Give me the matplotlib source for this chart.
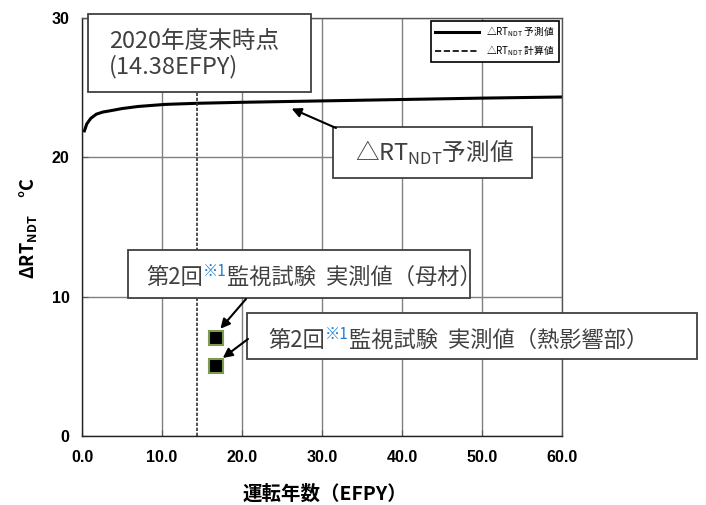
import matplotlib
matplotlib.use("Agg")
import matplotlib.pyplot as plt
from matplotlib.patches import Rectangle

plt.rcParams['font.family'] = ['Noto Sans CJK JP', 'DejaVu Sans']

# predicted curve (EFPY, deltaRT_NDT)
efpy = [0.3, 0.6, 1.1, 1.8, 2.6, 3.6, 5.0, 7.0, 10.4, 14.5, 20.0, 30.0, 40.0, 50.0, 60.0]
rt_pred = [21.9, 22.4, 22.8, 23.1, 23.25, 23.35, 23.5, 23.65, 23.8, 23.88, 23.95, 24.05, 24.15, 24.25, 24.33]

# measured values, 2nd surveillance test
meas_x = [16.7, 16.7]
meas_y = [7.0, 5.0]   # base metal, heat affected zone

now_efpy = 14.38
x_ticks = [0, 10, 20, 30, 40, 50, 60]
y_ticks = [0, 10, 20, 30]

W, H = 706, 505
fig = plt.figure(figsize=(W / 100, H / 100), dpi=100)
ax = fig.add_axes([82 / W, 1 - 436 / H, 480 / W, 418 / H])


def fx(px):
    return px / W


def fy(py):
    return 1 - py / H


ax.plot(efpy, rt_pred, color='black', lw=2.2, label='△RT$_{\\mathregular{NDT}}$ 予測値')
ax.plot([], [], color='black', lw=1.2, ls='--', label='△RT$_{\\mathregular{NDT}}$ 計算値')
ax.axvline(now_efpy, color='#333333', lw=1.2, ls=(0, (2, 1)))
ax.plot(meas_x, meas_y, ls='none', marker='s', ms=10, mfc='black', mec='#7d9a52', mew=1.5)

ax.set_xlim(0, 60)
ax.set_ylim(0, 30)
ax.set_xticks(x_ticks)
ax.set_yticks(y_ticks)
ax.set_xticklabels([f"{v:.1f}" for v in x_ticks])
ax.grid(True, color='#808080', lw=1)
ax.set_axisbelow(True)
ax.tick_params(direction='in', length=4, color='#555555')
ax.tick_params(axis='x', pad=10)
ax.tick_params(axis='y', pad=9)
for lab in ax.get_xticklabels() + ax.get_yticklabels():
    lab.set_fontfamily(['Liberation Sans', 'DejaVu Sans'])
    lab.set_fontweight('bold')
    lab.set_fontsize(11.5)
for s in ax.spines.values():
    s.set_color('#555555')
    s.set_linewidth(1)
ax.spines['left'].set_color('#222222')
ax.spines['bottom'].set_color('#222222')

leg = ax.legend(loc='upper right', fontsize=7, frameon=True, fancybox=False,
                framealpha=1, edgecolor='black', borderaxespad=0.3, handlelength=4.5,
                labelspacing=0.4, borderpad=0.4)
leg.get_frame().set_linewidth(1.2)

fig.text(fx(325), fy(494), '運転年数（EFPY）', ha='center', va='center',
         fontsize=14, fontweight='bold')
fig.text(fx(28), fy(228), 'ΔRT$_{\\mathregular{NDT}}$　°C', ha='center', va='center',
         rotation=90, fontsize=13, fontweight='bold')

txt_col = '#404040'
box_col = '#404040'
tf = fig.transFigure


def box(x0, y0, x1, y1):
    ax.add_patch(Rectangle((fx(x0), fy(y1)), fx(x1) - fx(x0), fy(y0) - fy(y1),
                           transform=tf, fc='white', ec=box_col,
                           lw=1.3, zorder=5, clip_on=False))


def arrow(xy, start):
    ax.annotate('', xy=xy, xycoords='data', xytext=(fx(start[0]), fy(start[1])),
                textcoords='figure fraction',
                arrowprops=dict(arrowstyle='-|>', color='black', lw=1.5,
                                mutation_scale=14, shrinkA=0, shrinkB=0), zorder=6)


# 2020 box
box(88, 14, 311, 92)
ax.text(fx(109), fy(54), '2020年度末時点\n(14.38EFPY)', ha='left', va='center',
        fontsize=17, color=txt_col, linespacing=1.1, zorder=6, transform=tf)

# prediction box
box(333, 127, 532, 178)
ax.text(fx(434), fy(153), '△RT$_{\\mathregular{NDT}}$予測値', ha='center', va='center',
        fontsize=17, color=txt_col, zorder=6, transform=tf)
arrow((26.2, 23.5), (336, 128))


def survey_label(px, py, tail):
    t1 = ax.text(fx(px), fy(py), '第2回', ha='left', va='baseline', fontsize=16,
                 color=txt_col, zorder=6, transform=tf)
    a2 = ax.annotate('※1', xy=(1, 0.4), xycoords=t1, ha='left', va='bottom',
                     fontsize=11, color='#1f7fd0', zorder=6)
    ax.annotate('監視試験  実測値' + tail, xy=(1, 0), xycoords=(a2, t1), ha='left',
                va='bottom', fontsize=16, color=txt_col, zorder=6)


# base metal box
box(128, 250, 470, 298)
survey_label(146, 284, '（母材）')
arrow((17.3, 7.7), (246, 299))

# HAZ box
box(247, 313, 697, 359)
survey_label(268, 347, '（熱影響部）')
arrow((17.6, 5.6), (248, 339))

fig.savefig('out.png', dpi=100)
